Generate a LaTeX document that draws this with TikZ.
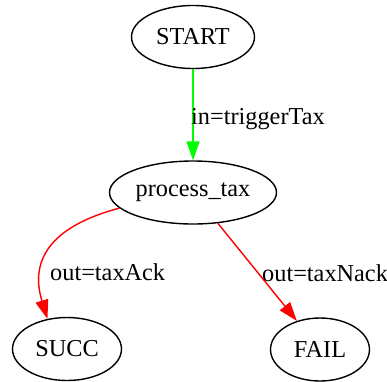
\documentclass[tikz,border=0pt]{standalone}
\usepackage{fontspec}
\setmainfont{Liberation Serif}
\usetikzlibrary{shapes.geometric,arrows.meta}
\tikzset{
  state/.style={draw=black, line width=1.4pt, ellipse, inner sep=0pt,
    minimum height=63pt, font=\fontsize{24.3}{29}\selectfont},
  edgelabel/.style={inner sep=0pt, anchor=west, font=\fontsize{24.3}{29}\selectfont},
  flow/.style={line width=1.4pt, -{Triangle[length=19pt,width=13pt]}},
}
\begin{document}
\begin{tikzpicture}[x=1pt,y=-1pt]
  \useasboundingbox (0,0) rectangle (387,381);
  % states
  \node[state, minimum width=123pt] (start) at (193,37) {START};
  \node[state, minimum width=167pt] (proc) at (193,192.5) {process\_tax};
  \node[state, minimum width=109pt] (succ) at (67,349) {SUCC};
  \node[state, minimum width=99pt] (fail) at (320,349.5) {FAIL};
  % transitions
  \draw[flow, draw=green] (start) -- (proc);
  \draw[flow, draw=red] (proc.192) .. controls (48,227) and (30,262) .. (succ.123);
  \draw[flow, draw=red] (proc) -- (fail);
  % labels
  \node[edgelabel] (lin) at (191,119) {in=triggerTax};
  \node[edgelabel] (lack) at (50,272.5) {out=taxAck};
  \node[edgelabel] (lnack) at (262,273) {out=taxNack};
\end{tikzpicture}
\end{document}
